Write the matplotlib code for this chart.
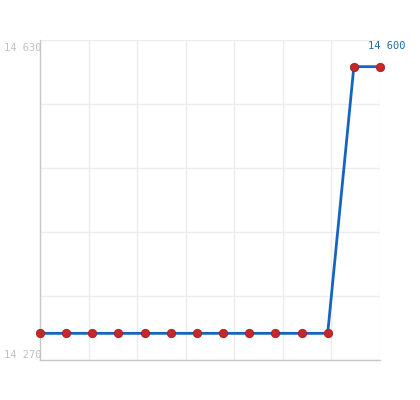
import matplotlib
matplotlib.use("Agg")
import matplotlib.pyplot as plt
import numpy as np

values = [14300, 14300, 14300, 14300, 14300, 14300, 14300,
          14300, 14300, 14300, 14300, 14300, 14600, 14600]
y_min, y_max = 14270, 14630
last_label = "14 600"

fig = plt.figure(figsize=(4.2, 4.0), dpi=100)
ax = fig.add_axes([40 / 420, 40 / 400, 340 / 420, 320 / 400])

x = np.arange(len(values))
ax.plot(x, values, color="#1565c0", linewidth=2, zorder=3, clip_on=False)
ax.scatter(x, values, s=36, color="#c62828", edgecolor="#a51f1f", linewidth=0.6,
           zorder=4, clip_on=False)

ax.set_xlim(0, len(values) - 1)
ax.set_ylim(y_min, y_max)

ax.set_xticks(np.linspace(0, len(values) - 1, 8))
ax.set_yticks(np.linspace(y_min, y_max, 6))
ax.grid(True, color="#ececec", linewidth=1)
ax.tick_params(length=0, labelbottom=False, labelleft=False)

for side in ["top", "right"]:
    ax.spines[side].set_visible(False)
for side in ["left", "bottom"]:
    ax.spines[side].set_color("#c8c8c8")
    ax.spines[side].set_linewidth(1)

mono = "DejaVu Sans Mono"
ax.annotate("14 630", (0, y_max), xycoords=ax.get_yaxis_transform(), xytext=(1, -2),
            textcoords="offset points", ha="right", va="top",
            fontsize=7.5, color="#c0c0c0", family=mono)
ax.annotate("14 270", (0, y_min), xycoords=ax.get_yaxis_transform(), xytext=(1, 0),
            textcoords="offset points", ha="right", va="bottom",
            fontsize=7.5, color="#c0c0c0", family=mono)

ax.annotate(last_label, (x[-1], values[-1]), xytext=(5, 11), textcoords="offset points",
            ha="center", va="bottom", fontsize=7.5, color="#1a6bb5", family=mono,
            annotation_clip=False)

plt.savefig("out.png", dpi=100)
